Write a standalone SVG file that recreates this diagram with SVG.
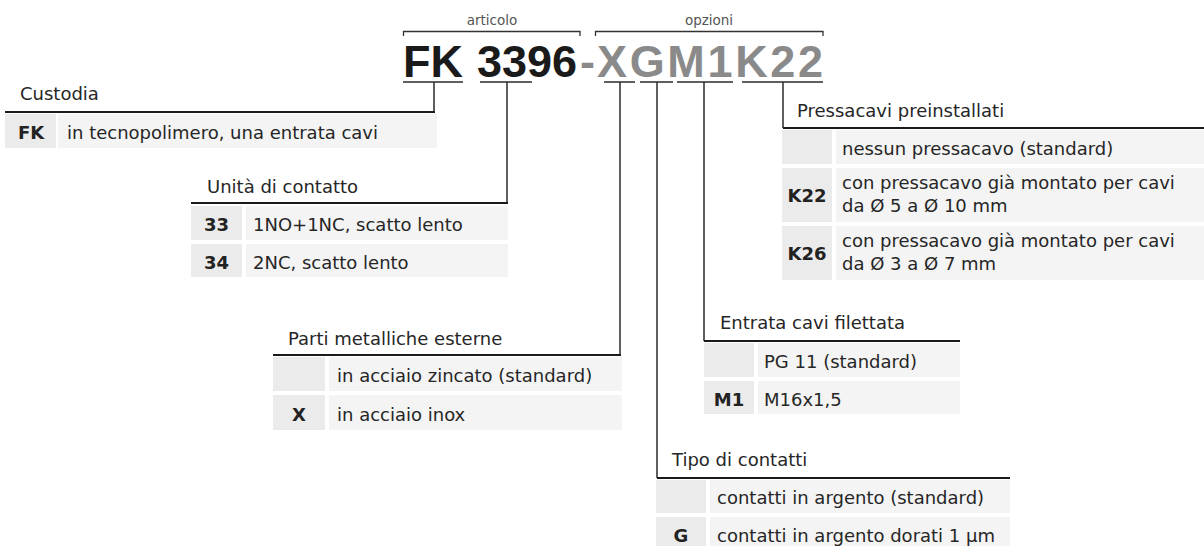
<svg xmlns="http://www.w3.org/2000/svg" width="1204" height="546" viewBox="0 0 1204 546">
<style>
.hl{stroke:#1a1a1a;stroke-width:2;fill:none}
.cn{stroke:#2b2b2b;stroke-width:1.5;fill:none}
.br{stroke:#333;stroke-width:1.3;fill:none}
.code{fill:#ebebeb}
.cell{fill:#f4f4f4}
.t{font-family:"DejaVu Sans",sans-serif;font-size:18px;fill:#262626}
.b{font-weight:bold;text-anchor:middle;fill:#222}
.sm{font-family:"DejaVu Sans",sans-serif;font-size:13.5px;fill:#555;text-anchor:middle}
.title{font-family:"Liberation Sans",Arial,sans-serif;font-size:45px;font-weight:bold}
</style>
<rect width="1204" height="546" fill="#ffffff"/>

<g id="title">
  <path class="br" d="M403.5,36 V31.5 H580 V36 M595.5,36 V31.5 H823 V36"/>
  <text class="sm" x="492" y="25">articolo</text>
  <text class="sm" x="709" y="25">opzioni</text>
  <text class="title" x="403" y="77" fill="#1a1a1a">FK</text>
  <text class="title" x="477" y="77" fill="#1a1a1a">3396</text>
  <text class="title" x="580" y="77" fill="#8a8a8a">-</text>
  <text class="title" x="597" y="77" fill="#8a8a8a" textLength="226" lengthAdjust="spacing">XGM1K22</text>
</g>

<g id="connectors">
  <path class="cn" d="M403,82 H463 M434,82 V112"/>
  <path class="cn" d="M480,82 H532 M507,82 V203"/>
  <path class="cn" d="M604,82 H635 M620,82 V355"/>
  <path class="cn" d="M640,82 H673 M657,82 V478"/>
  <path class="cn" d="M677,82 H733 M704,82 V341"/>
  <path class="cn" d="M742,82 H823 M783,82 V128"/>
</g>

<g id="custodia">
  <text class="t" x="20" y="100">Custodia</text>
  <path class="hl" d="M5,112 H435"/>
  <rect class="code" x="5" y="114" width="51" height="34"/>
  <rect class="cell" x="58" y="114" width="379" height="34"/>
  <text class="t b" x="31" y="139">FK</text>
  <text class="t" x="67" y="139">in tecnopolimero, una entrata cavi</text>
</g>

<g id="unita">
  <text class="t" x="207" y="193">Unità di contatto</text>
  <path class="hl" d="M191,203 H508"/>
  <rect class="code" x="191" y="206" width="51" height="34"/>
  <rect class="cell" x="246" y="206" width="262" height="34"/>
  <text class="t b" x="216.5" y="231">33</text>
  <text class="t" x="253" y="231">1NO+1NC, scatto lento</text>
  <rect class="code" x="191" y="244" width="51" height="33"/>
  <rect class="cell" x="246" y="244" width="262" height="33"/>
  <text class="t b" x="216.5" y="269">34</text>
  <text class="t" x="253" y="269">2NC, scatto lento</text>
</g>

<g id="parti">
  <text class="t" x="288" y="345">Parti metalliche esterne</text>
  <path class="hl" d="M273,355 H621"/>
  <rect class="code" x="273" y="357" width="52" height="34"/>
  <rect class="cell" x="329" y="357" width="293" height="34"/>
  <text class="t" x="337" y="382">in acciaio zincato (standard)</text>
  <rect class="code" x="273" y="395" width="52" height="35"/>
  <rect class="cell" x="329" y="395" width="293" height="35"/>
  <text class="t b" x="299" y="421">X</text>
  <text class="t" x="337" y="421">in acciaio inox</text>
</g>

<g id="pressacavi">
  <text class="t" x="797" y="117">Pressacavi preinstallati</text>
  <path class="hl" d="M783,128 H1204"/>
  <rect class="code" x="782" y="130" width="50" height="34"/>
  <rect class="cell" x="836" y="130" width="368" height="34"/>
  <text class="t" x="842" y="155">nessun pressacavo (standard)</text>
  <rect class="code" x="782" y="168" width="50" height="54"/>
  <rect class="cell" x="836" y="168" width="368" height="54"/>
  <text class="t b" x="807" y="202">K22</text>
  <text class="t" x="842" y="189">con pressacavo già montato per cavi</text>
  <text class="t" x="842" y="212">da Ø 5 a Ø 10 mm</text>
  <rect class="code" x="782" y="226" width="50" height="54"/>
  <rect class="cell" x="836" y="226" width="368" height="54"/>
  <text class="t b" x="807" y="260">K26</text>
  <text class="t" x="842" y="247">con pressacavo già montato per cavi</text>
  <text class="t" x="842" y="270">da Ø 3 a Ø 7 mm</text>
</g>

<g id="entrata">
  <text class="t" x="720" y="329">Entrata cavi filettata</text>
  <path class="hl" d="M704,341 H960"/>
  <rect class="code" x="704" y="343" width="50" height="34"/>
  <rect class="cell" x="758" y="343" width="202" height="34"/>
  <text class="t" x="764" y="368">PG 11 (standard)</text>
  <rect class="code" x="704" y="381" width="50" height="33"/>
  <rect class="cell" x="758" y="381" width="202" height="33"/>
  <text class="t b" x="729" y="406">M1</text>
  <text class="t" x="764" y="406">M16x1,5</text>
</g>

<g id="tipo">
  <text class="t" x="672" y="466">Tipo di contatti</text>
  <path class="hl" d="M657,478 H1010"/>
  <rect class="code" x="656" y="480" width="50" height="33"/>
  <rect class="cell" x="710" y="480" width="300" height="33"/>
  <text class="t" x="717" y="504">contatti in argento (standard)</text>
  <rect class="code" x="656" y="517" width="50" height="29"/>
  <rect class="cell" x="710" y="517" width="300" height="29"/>
  <text class="t b" x="681" y="542">G</text>
  <text class="t" x="717" y="542">contatti in argento dorati 1 µm</text>
</g>
</svg>
